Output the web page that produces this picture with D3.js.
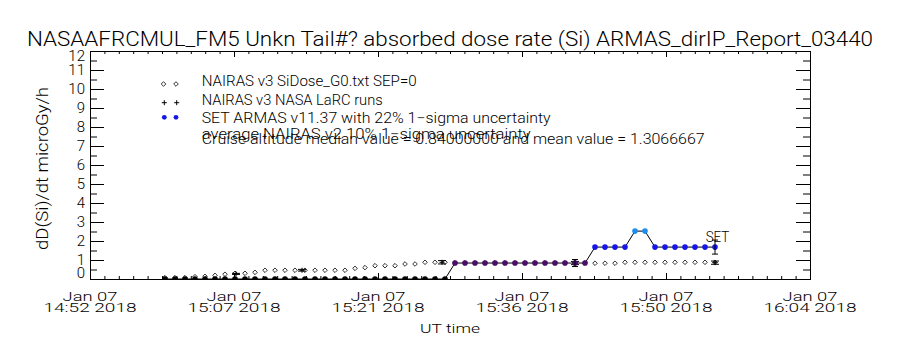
<!DOCTYPE html>
<html><head><meta charset="utf-8">
<script src="https://cdn.jsdelivr.net/npm/d3@7"></script>
<style>
body{margin:0;background:#fff;}
text{font-family:"Roboto","Lato","Open Sans",sans-serif;font-weight:300;fill:#000;}
</style>
</head><body>
<svg id="c" width="900" height="350"></svg>
<script>
// ---------- data ----------
const titleText = "NASAAFRCMUL_FM5 Unkn Tail#? absorbed dose rate (Si) ARMAS_dirIP_Report_03440";
const yTitle = "dD(Si)/dt microGy/h";
const xTitle = "UT time";
const legendLabels = [
  "NAIRAS v3 SiDose_G0.txt SEP=0",
  "NAIRAS v3 NASA LaRC runs",
  "SET ARMAS v11.37 with 22% 1\u2212sigma uncertainty",
  "average NAIRAS v2 10% 1\u2212sigma uncertainty",
  "Cruise altitude median value = 0.84000000 and mean value = 1.3066667"
];
const domainTimes = ["14:52:00", "16:04:00"];
const xTickTimes = ["14:52:00","15:06:24","15:20:48","15:35:12","15:49:36","16:04:00"];
const xTickDates = ["Jan 07","Jan 07","Jan 07","Jan 07","Jan 07","Jan 07"];
const xTickLabels = ["14:52 2018","15:07 2018","15:21 2018","15:36 2018","15:50 2018","16:04 2018"];
const yTicks = [0,1,2,3,4,5,6,7,8,9,10,11,12];

const times = [
  "14:59:30","15:00:30","15:01:30","15:02:30","15:03:30","15:04:30","15:05:30","15:06:30",
  "15:07:30","15:08:30","15:09:30","15:10:30","15:11:30","15:12:30","15:13:30","15:14:30",
  "15:15:30","15:16:30","15:17:30","15:18:30","15:19:30","15:20:30","15:21:30","15:22:30",
  "15:23:30","15:24:30","15:25:30","15:26:30","15:27:30","15:28:30","15:29:30","15:30:30",
  "15:31:30","15:32:30","15:33:30","15:34:30","15:35:30","15:36:30","15:37:30","15:38:30",
  "15:39:30","15:40:30","15:41:30","15:42:30","15:43:30","15:44:30","15:45:30","15:46:30",
  "15:47:30","15:48:30","15:49:30","15:50:30","15:51:30","15:52:30","15:53:30","15:54:30"
];
// NAIRAS v3 SiDose_G0 (diamonds)
const nairasG0 = [
  0.07,0.07,0.07,0.12,0.14,0.19,0.25,0.30,
  0.30,0.35,0.46,0.46,0.46,0.46,0.46,0.46,
  0.46,0.46,0.46,0.56,0.60,0.70,0.70,0.70,
  0.79,0.79,0.88,0.88,0.88,0.85,0.85,0.85,
  0.85,0.85,0.85,0.85,0.85,0.85,0.85,0.85,
  0.85,0.85,0.85,0.83,0.83,0.83,0.88,0.88,
  0.88,0.88,0.88,0.88,0.88,0.88,0.88,0.88
];
// SET ARMAS (coloured dots)
const armas = [
  0,0,0,0,0,0,0,0,
  0,0,0,0,0,0,0,0,
  0,0,0,0,0,0,0,0,
  0,0,0,0,0,0.84,0.84,0.84,
  0.84,0.84,0.84,0.84,0.84,0.84,0.84,0.84,
  0.84,0.84,0.84,1.68,1.68,1.68,1.68,2.52,
  2.52,1.68,1.68,1.68,1.68,1.68,1.68,1.68
];
const armasErrTimes = ["15:40:30","15:54:30"];
const armasErrValues = [0.84, 1.68];
const armasUncert = 0.22;
// NAIRAS v3 NASA LaRC runs (plus)
const larcTimes = ["15:06:36","15:13:12","15:27:12","15:40:30","15:54:30"];
const larcValues = [0.27, 0.46, 0.88, 0.84, 0.86];
const larcUncert = 0.10;
const setLabel = "SET";

// ---------- drawing ----------
const svg = d3.select("#c");
const L = 90, R = 810, T = 51, B = 279;
const parse = d3.timeParse("%H:%M:%S");
const x = d3.scaleTime().domain(domainTimes.map(parse)).range([L, R]);
const y = d3.scaleLinear().domain([0, 12]).range([B, T]);
const colour = d3.scaleThreshold().domain([0.5, 1.2, 2.2])
  .range(["#000000", "#4a0e6a", "#1616e8", "#1e8cf0"]);

svg.append("rect").attr("width", 900).attr("height", 350).attr("fill", "#fff");

// title
svg.append("text").attr("x", 27).attr("y", 46).attr("font-size", 21)
  .attr("textLength", 846).attr("lengthAdjust", "spacingAndGlyphs").text(titleText);

// axes
const t0 = x.domain()[0].getTime(), t1 = x.domain()[1].getTime();
const minorX = d3.range(0, 51).map(i => new Date(t0 + i * (t1 - t0) / 50));
const majorX = xTickTimes.map(parse);
function clean(g){ g.select(".domain").remove(); g.selectAll("line").attr("stroke","#000").attr("stroke-width",1); g.selectAll("text").remove(); }
svg.append("g").attr("transform", `translate(0,${B})`).call(d3.axisBottom(x).tickValues(minorX).tickSize(-3)).call(clean);
svg.append("g").attr("transform", `translate(0,${B})`).call(d3.axisBottom(x).tickValues(majorX).tickSize(-6)).call(clean);
svg.append("g").attr("transform", `translate(0,${T})`).call(d3.axisTop(x).tickValues(minorX).tickSize(-3)).call(clean);
svg.append("g").attr("transform", `translate(0,${T})`).call(d3.axisTop(x).tickValues(majorX).tickSize(-6)).call(clean);
const minorY = d3.range(0, 25).map(i => i * 0.5);
svg.append("g").attr("transform", `translate(${L},0)`).call(d3.axisLeft(y).tickValues(minorY).tickSize(-7)).call(clean);
svg.append("g").attr("transform", `translate(${L},0)`).call(d3.axisLeft(y).tickValues(yTicks).tickSize(-14)).call(clean);
svg.append("g").attr("transform", `translate(${R},0)`).call(d3.axisRight(y).tickValues(minorY).tickSize(-7)).call(clean);
svg.append("g").attr("transform", `translate(${R},0)`).call(d3.axisRight(y).tickValues(yTicks).tickSize(-14)).call(clean);
svg.append("rect").attr("x", L + 0.5).attr("y", T + 0.5).attr("width", R - L).attr("height", B - T)
  .attr("fill", "none").attr("stroke", "#000").attr("stroke-width", 1);

// y tick labels
svg.append("g").selectAll("text").data(yTicks).join("text")
  .attr("x", 85).attr("y", d => Math.min(B - 6.5, Math.max(T + 5, y(d))))
  .attr("dy", "0.36em").attr("text-anchor", "end").attr("font-size", 15).text(d => d);
// x tick labels
const xl = svg.append("g");
xl.selectAll("text.d").data(majorX).join("text").attr("class","d")
  .attr("x", d => x(d) - 27.5).attr("y", 301).attr("font-size", 13.5)
  .attr("textLength", 55).attr("lengthAdjust", "spacingAndGlyphs").text((d, i) => xTickDates[i]);
xl.selectAll("text.t").data(majorX).join("text").attr("class","t")
  .attr("x", d => x(d) - 46.5).attr("y", 312).attr("font-size", 13.5)
  .attr("textLength", 93).attr("lengthAdjust", "spacingAndGlyphs").text((d, i) => xTickLabels[i]);
svg.append("text").attr("x", 420).attr("y", 333).attr("font-size", 13.5)
  .attr("textLength", 60).attr("lengthAdjust", "spacingAndGlyphs").text(xTitle);
svg.append("text").attr("transform", "translate(48.3,250) rotate(-90)").attr("font-size", 16)
  .attr("textLength", 163).attr("lengthAdjust", "spacingAndGlyphs").text(yTitle);

// clip
svg.append("clipPath").attr("id", "clip").append("rect")
  .attr("x", L).attr("y", T).attr("width", R - L).attr("height", B - T);
const plot = svg.append("g").attr("clip-path", "url(#clip)");

const pts = times.map((t, i) => ({t: parse(t), g0: nairasG0[i], a: armas[i]}));
const diamond = (cx, cy, r) => `M${cx},${cy - r}L${cx + r},${cy}L${cx},${cy + r}L${cx - r},${cy}Z`;
const plus = (cx, cy, r) => `M${cx - r},${cy}H${cx + r}M${cx},${cy - r}V${cy + r}`;

// diamonds
plot.append("g").selectAll("path").data(pts).join("path")
  .attr("d", d => diamond(x(d.t), y(d.g0), 2.3)).attr("fill", "none").attr("stroke", "#000").attr("stroke-width", 0.8);

// LaRC plus + 10% error bars
const larc = larcTimes.map((t, i) => ({t: parse(t), v: larcValues[i]}));
const lg = plot.append("g").attr("stroke", "#000").attr("stroke-width", 1).attr("fill", "none");
lg.selectAll("path.p").data(larc).join("path").attr("class","p").attr("d", d => plus(x(d.t), y(d.v), 2.5));
lg.selectAll("path.e").data(larc).join("path").attr("class","e").attr("d", d => {
  const cx = x(d.t), a = y(d.v * (1 + larcUncert)), b = y(d.v * (1 - larcUncert));
  return `M${cx},${a}V${b}M${cx - 4},${a}H${cx + 4}M${cx - 4},${b}H${cx + 4}`;
});

// ARMAS line + dots
plot.append("path").datum(pts).attr("fill", "none").attr("stroke", "#000").attr("stroke-width", 1)
  .attr("d", d3.line().x(d => x(d.t)).y(d => y(d.a)));
plot.append("g").selectAll("circle").data(pts).join("circle")
  .attr("cx", d => x(d.t)).attr("cy", d => y(d.a)).attr("r", 2.8).attr("fill", d => colour(d.a));
// ARMAS error bars
const aerr = armasErrTimes.map((t, i) => ({t: parse(t), v: armasErrValues[i]}));
plot.append("g").selectAll("path").data(aerr).join("path").attr("fill","none").attr("stroke","#000").attr("stroke-width",1)
  .attr("d", d => {
    const cx = x(d.t), a = y(d.v * (1 + armasUncert)), b = y(d.v * (1 - armasUncert));
    return `M${cx},${a}V${b}M${cx - 3},${a}H${cx + 3}M${cx - 3},${b}H${cx + 3}`;
  });
// SET label
svg.append("text").attr("x", 705.7).attr("y", 241.7).attr("font-size", 14)
  .attr("textLength", 23.6).attr("lengthAdjust", "spacingAndGlyphs").text(setLabel);

// legend
const leg = svg.append("g");
[163.5, 176].forEach(cx => leg.append("path").attr("d", diamond(cx, 84, 2.3)).attr("fill","none").attr("stroke","#000").attr("stroke-width",0.8));
[164.3, 176.7].forEach(cx => leg.append("path").attr("d", plus(cx, 102.7, 2.5)).attr("fill","none").attr("stroke","#000"));
[164.3, 176].forEach(cx => leg.append("circle").attr("cx", cx).attr("cy", 117.3).attr("r", 2.4).attr("fill", colour(1.68)));
const legY = [86, 105, 123.3, 139.3, 144];
const legW = [215, 181, 349, 329, 503];
leg.selectAll("text").data(legendLabels).join("text")
  .attr("x", 201.7).attr("y", (d, i) => legY[i]).attr("font-size", 14)
  .attr("textLength", (d, i) => legW[i]).attr("lengthAdjust", "spacingAndGlyphs").text(d => d);
</script>
</body></html>
